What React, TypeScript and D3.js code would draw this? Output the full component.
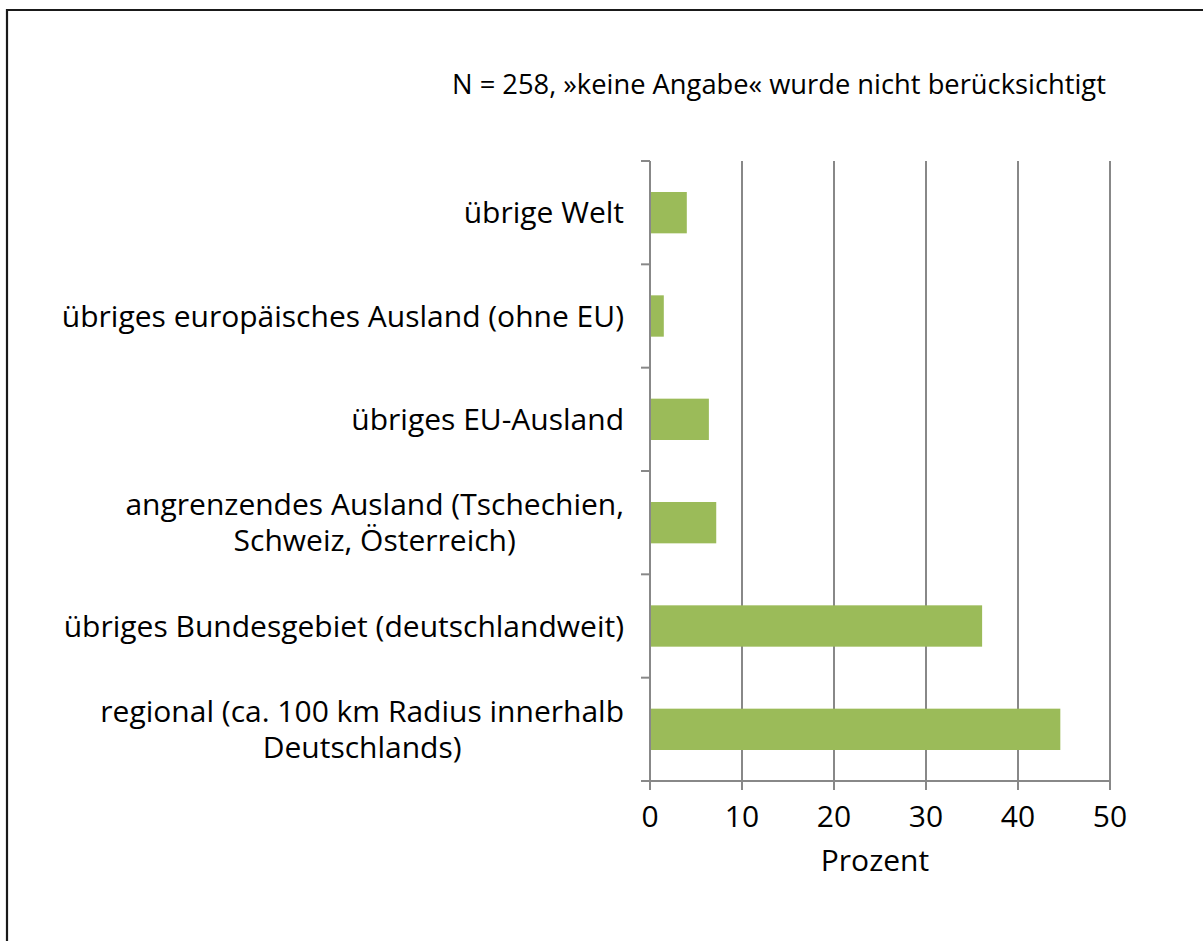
import React, { useEffect, useRef } from "react";
import * as d3 from "d3";

const categories: string[][] = [
  ["übrige Welt"],
  ["übriges europäisches Ausland (ohne EU)"],
  ["übriges EU-Ausland"],
  ["angrenzendes Ausland (Tschechien,", "Schweiz, Österreich)"],
  ["übriges Bundesgebiet (deutschlandweit)"],
  ["regional (ca. 100 km Radius innerhalb", "Deutschlands)"],
];
const values: number[] = [4.0, 1.5, 6.4, 7.2, 36.1, 44.6];
const xTicks: number[] = [0, 10, 20, 30, 40, 50];
const noteText = "N = 258, »keine Angabe« wurde nicht berücksichtigt";
const xTitle = "Prozent";

const W = 1203;
const H = 941;
const FONT = "'Open Sans', 'Noto Sans', sans-serif";

export default function App() {
  const ref = useRef<SVGSVGElement | null>(null);

  useEffect(() => {
    document.body.style.margin = "0";
    const svg = d3.select(ref.current);
    svg.selectAll("*").remove();

    const left = 650, right = 1110, top = 161, bottom = 781;
    const x = d3.scaleLinear().domain([0, 50]).range([left, right]);
    const idx = categories.map((_, i) => String(i));
    const y = d3.scaleBand<string>().domain(idx).range([top, bottom]).paddingInner(0.6).paddingOuter(0.3);
    const step = (bottom - top) / categories.length;
    const axisColor = "#888888";
    const fs = 30;

    // frame
    svg.append("path")
      .attr("d", `M7,${H + 5} L7,10 L${W + 5},10`)
      .attr("fill", "none").attr("stroke", "#1a1a1a").attr("stroke-width", 2.2);

    // note
    svg.append("text")
      .attr("x", 452).attr("y", 94)
      .attr("font-family", FONT).attr("font-size", 27.3).attr("fill", "#000")
      .text(noteText);

    // gridlines
    svg.append("g").selectAll("line").data(xTicks.filter((t) => t > 0)).join("line")
      .attr("x1", (d) => x(d)).attr("x2", (d) => x(d))
      .attr("y1", top).attr("y2", bottom)
      .attr("stroke", axisColor).attr("stroke-width", 2);

    // bars
    svg.append("g").selectAll("rect").data(values).join("rect")
      .attr("x", x(0)).attr("y", (_, i) => y(String(i)) as number)
      .attr("width", (d) => x(d) - x(0)).attr("height", y.bandwidth())
      .attr("fill", "#9BBB59");

    // y axis
    svg.append("line").attr("x1", left).attr("x2", left).attr("y1", top).attr("y2", bottom)
      .attr("stroke", axisColor).attr("stroke-width", 2);
    svg.append("g").selectAll("line").data(d3.range(categories.length + 1)).join("line")
      .attr("x1", left - 9).attr("x2", left)
      .attr("y1", (d) => top + d * step).attr("y2", (d) => top + d * step)
      .attr("stroke", axisColor).attr("stroke-width", 2);

    // x axis
    svg.append("line").attr("x1", left - 9).attr("x2", right).attr("y1", bottom).attr("y2", bottom)
      .attr("stroke", axisColor).attr("stroke-width", 2);
    svg.append("g").selectAll("line").data(xTicks).join("line")
      .attr("x1", (d) => x(d)).attr("x2", (d) => x(d))
      .attr("y1", bottom).attr("y2", bottom + 9)
      .attr("stroke", axisColor).attr("stroke-width", 2);
    svg.append("g").selectAll("text").data(xTicks).join("text")
      .attr("x", (d) => x(d)).attr("y", 827)
      .attr("text-anchor", "middle")
      .attr("font-family", FONT).attr("font-size", fs).attr("fill", "#000")
      .text((d) => String(d));
    svg.append("text")
      .attr("x", 875).attr("y", 871)
      .attr("text-anchor", "middle")
      .attr("font-family", FONT).attr("font-size", fs).attr("fill", "#000")
      .text(xTitle);

    // category labels: multi-line labels are a centred block aligned right
    const lineH = 36;
    const g = svg.append("g");
    categories.forEach((lines, i) => {
      const cy = (y(String(i)) as number) + y.bandwidth() / 2;
      const block = g.append("g");
      const texts = lines.map((ln, j) => {
        const off = (j - (lines.length - 1) / 2) * lineH;
        return block.append("text")
          .attr("y", cy + off + 10.5)
          .attr("text-anchor", "middle")
          .attr("font-family", FONT).attr("font-size", fs).attr("fill", "#000")
          .text(ln);
      });
      const widths = texts.map((t) => (t.node() as SVGTextElement).getComputedTextLength());
      const maxW = Math.max(...widths);
      const cx = 624 - maxW / 2;
      texts.forEach((t) => t.attr("x", cx));
    });
  }, []);

  return <svg ref={ref} width={W} height={H} style={{ display: "block", background: "#fff" }} />;
}
